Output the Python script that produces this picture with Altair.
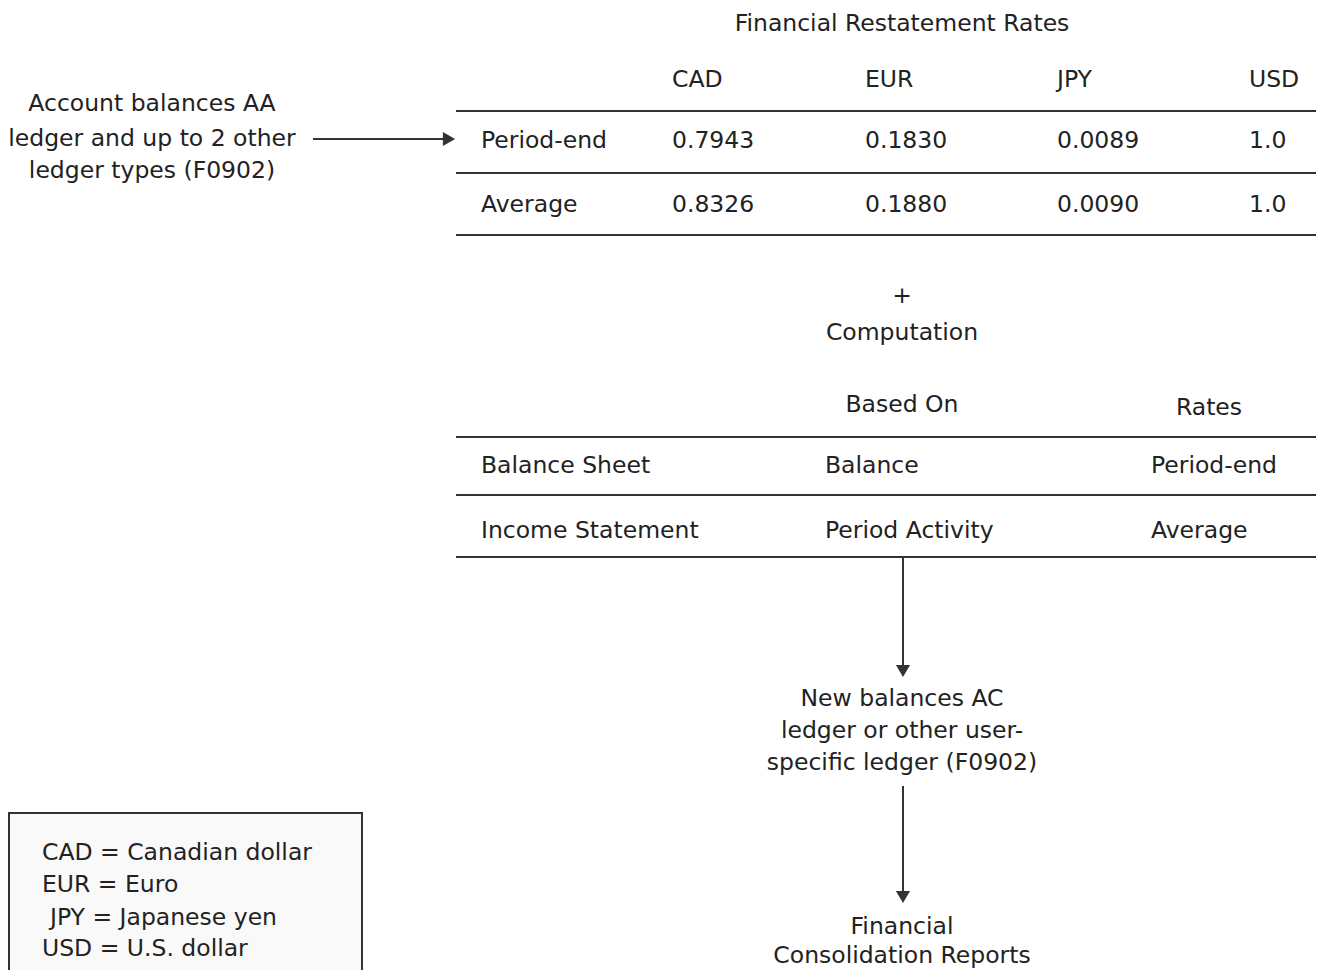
import altair as alt
import pandas as pd

# ---------------- content ----------------
title = "Financial Restatement Rates"
currencies = ["CAD", "EUR", "JPY", "USD"]
rate_types = ["Period-end", "Average"]
rate_values = [
    ["0.7943", "0.1830", "0.0089", "1.0"],
    ["0.8326", "0.1880", "0.0090", "1.0"],
]
source_lines = ["Account balances AA", "ledger and up to 2 other", "ledger types (F0902)"]
plus_sign = "+"
computation = "Computation"
comp_headers = ["Based On", "Rates"]
comp_rows = ["Balance Sheet", "Income Statement"]
comp_based = ["Balance", "Period Activity"]
comp_rates = ["Period-end", "Average"]
target_lines = ["New balances AC", "ledger or other user-", "specific ledger (F0902)"]
report_lines = ["Financial", "Consolidation Reports"]
legend_codes = ["CAD", "EUR", "JPY", "USD"]
legend_names = ["Canadian dollar", "Euro", "Japanese yen", "U.S. dollar"]

# ---------------- layout (page pixel coordinates) ----------------
W, H = 1308, 962
OFF = 8
col_x = [672, 865, 1057, 1249]
row_label_x = 481
head_y = 80
rate_row_y = [141, 205]
table1_rules_y = [111, 173, 235]
table_x0, table_x1 = 456, 1324
center_x = 902
title_y = 24
comp_head_x = [902, 1209]
comp_head_y = [405, 408]
comp_col_x = [481, 825, 1151]
comp_row_y = [466, 531]
table2_rules_y = [437, 495, 557]
src_x, src_y = [152, 152, 152], [104, 139, 171]
tgt_y = [699, 731, 763]
rep_y = [927, 956]
leg_x = [42, 42, 50, 42]
leg_y = [853, 885, 918, 949]

FONT = "DejaVu Sans"
FS = 23.5
INK = "#222222"
LINE = "#333333"

xs = alt.Scale(domain=[OFF, OFF + W], range=[0, W], nice=False, zero=False)
ys = alt.Scale(domain=[OFF, OFF + H], range=[0, H], nice=False, zero=False)

left_rows, center_rows = [], []
center_rows.append(dict(t=title, x=center_x, y=title_y))
for c, x in zip(currencies, col_x):
    left_rows.append(dict(t=c, x=x, y=head_y))
for r, vals, y in zip(rate_types, rate_values, rate_row_y):
    left_rows.append(dict(t=r, x=row_label_x, y=y))
    for v, x in zip(vals, col_x):
        left_rows.append(dict(t=v, x=x, y=y))
for s, x, y in zip(source_lines, src_x, src_y):
    center_rows.append(dict(t=s, x=x, y=y))
center_rows.append(dict(t=plus_sign, x=center_x, y=296))
center_rows.append(dict(t=computation, x=center_x, y=333))
for h, x, y in zip(comp_headers, comp_head_x, comp_head_y):
    center_rows.append(dict(t=h, x=x, y=y))
for i, y in enumerate(comp_row_y):
    for t, x in zip([comp_rows[i], comp_based[i], comp_rates[i]], comp_col_x):
        left_rows.append(dict(t=t, x=x, y=y))
for s, y in zip(target_lines, tgt_y):
    center_rows.append(dict(t=s, x=center_x, y=y))
for s, y in zip(report_lines, rep_y):
    center_rows.append(dict(t=s, x=center_x, y=y))
for c, n, x, y in zip(legend_codes, legend_names, leg_x, leg_y):
    left_rows.append(dict(t=f"{c} = {n}", x=x, y=y))

left_df = pd.DataFrame(left_rows)
center_df = pd.DataFrame(center_rows)

seg_rows = []
for y in table1_rules_y + table2_rules_y:
    seg_rows.append(dict(x=table_x0, x2=table_x1, y=y, y2=y))
seg_rows.append(dict(x=313, x2=446, y=139, y2=139))
seg_rows.append(dict(x=903, x2=903, y=557, y2=668))
seg_rows.append(dict(x=903, x2=903, y=786, y2=894))
seg_df = pd.DataFrame(seg_rows)

right_heads = pd.DataFrame([dict(x=449, y=139)])
down_heads = pd.DataFrame([dict(x=903, y=671), dict(x=903, y=897)])

box_df = pd.DataFrame([dict(x=9, x2=362, y=813, y2=990)])

enc_xy = dict(x=alt.X("x:Q", scale=xs, axis=None), y=alt.Y("y:Q", scale=ys, axis=None))

box = alt.Chart(box_df).mark_rect(fill="#f9f9f9", stroke=LINE, strokeWidth=2).encode(
    x2="x2:Q", y2="y2:Q", **enc_xy)
segs = alt.Chart(seg_df).mark_rule(color=LINE, strokeWidth=2).encode(
    x2="x2:Q", y2="y2:Q", **enc_xy)
rh = alt.Chart(right_heads).mark_point(shape="triangle-right", filled=True, color=LINE,
                                       size=200, opacity=1).encode(**enc_xy)
dh = alt.Chart(down_heads).mark_point(shape="triangle-down", filled=True, color=LINE,
                                      size=200, opacity=1).encode(**enc_xy)
tl = alt.Chart(left_df).mark_text(align="left", baseline="middle", font=FONT,
                                  fontSize=FS, color=INK).encode(text="t:N", **enc_xy)
tc = alt.Chart(center_df).mark_text(align="center", baseline="middle", font=FONT,
                                    fontSize=FS, color=INK).encode(text="t:N", **enc_xy)

chart = alt.layer(box, segs, rh, dh, tl, tc).properties(
    width=W, height=H,
    autosize=alt.AutoSizeParams(type="fit", contains="padding"),
    padding=0,
).configure_view(stroke=None)

chart.save("out.html", embed_options={"renderer": "svg", "actions": False})
